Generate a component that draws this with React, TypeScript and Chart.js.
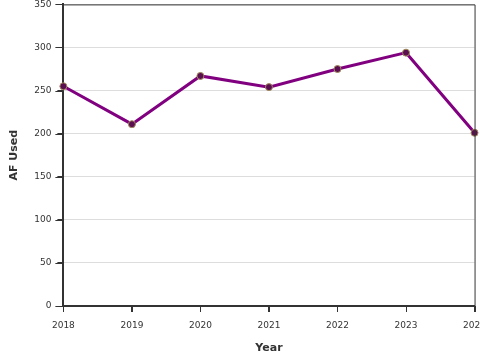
import React, { useEffect, useRef } from "react";
import { Chart, registerables } from "chart.js";

Chart.register(...registerables);

const years = ["2018", "2019", "2020", "2021", "2022", "2023", "2024"];
const afUsed = [255, 211, 267, 254, 275, 294, 201];
const yTicks = [0, 50, 100, 150, 200, 250, 300, 350];

const borderPlugin = {
  id: "areaBorder",
  afterDraw(chart: any) {
    const { ctx, chartArea } = chart;
    ctx.save();
    ctx.strokeStyle = "#333";
    ctx.lineWidth = 1;
    ctx.beginPath();
    ctx.moveTo(chartArea.left, chartArea.top + 0.5);
    ctx.lineTo(chartArea.right + 0.5, chartArea.top + 0.5);
    ctx.lineTo(chartArea.right + 0.5, chartArea.bottom);
    ctx.stroke();
    const xs = chart.scales.x;
    ctx.beginPath();
    xs.ticks.forEach((_t: any, i: number) => {
      const x = Math.round(xs.getPixelForTick(i)) + 0.5;
      ctx.moveTo(x, chartArea.bottom);
      ctx.lineTo(x, chartArea.bottom + 6);
    });
    const ys = chart.scales.y;
    ys.ticks.forEach((_t: any, i: number) => {
      const y = Math.round(ys.getPixelForTick(i)) + 0.5;
      ctx.moveTo(chartArea.left - 8, y);
      ctx.lineTo(chartArea.left, y);
    });
    ctx.stroke();
    ctx.restore();
  },
};

export default function App() {
  const ref = useRef<HTMLCanvasElement>(null);
  useEffect(() => {
    document.body.style.margin = "0";
    const chart = new Chart(ref.current!, {
      type: "line",
      data: {
        labels: years,
        datasets: [
          {
            data: afUsed,
            borderColor: "#800080",
            borderWidth: 3,
            pointRadius: 3.5,
            pointBackgroundColor: "#5a1050",
            pointBorderColor: "#a08a5a",
            pointBorderWidth: 1,
            tension: 0,
            clip: false as any,
          },
        ],
      },
      options: {
        animation: false,
        responsive: false,
        layout: { padding: { top: 0, left: 8, right: 0, bottom: 5 } },
        plugins: { legend: { display: false }, tooltip: { enabled: false } },
        scales: {
          x: {
            offset: false,
            grid: { display: true, drawOnChartArea: false, tickLength: 6, color: "#333" },
            border: { color: "#333", width: 2 },
            ticks: { color: "#333", font: { family: "DejaVu Sans", size: 9 }, maxRotation: 0, padding: 8 },
            title: { display: true, text: "Year", color: "#333", font: { family: "DejaVu Sans", size: 11, weight: "bold" }, padding: { top: 3, bottom: 0 } },
          },
          y: {
            min: 0,
            max: 350,
            afterBuildTicks: (s: any) => {
              s.ticks = yTicks.map((v) => ({ value: v }));
            },
            grid: { color: "#dddddd", tickLength: 6, tickColor: "#333" } as any,
            border: { color: "#333", width: 2 },
            ticks: { color: "#333", font: { family: "DejaVu Sans", size: 9 }, padding: 6 },
            title: { display: true, text: "AF Used", color: "#333", font: { family: "DejaVu Sans", size: 11, weight: "bold" }, padding: { top: 0, bottom: 7 } },
          },
        },
      },
      plugins: [borderPlugin],
    });
    return () => chart.destroy();
  }, []);
  return (
    <div style={{ position: "absolute", left: 0, top: 0, width: 480, height: 360, overflow: "hidden" }}>
      <canvas ref={ref} width={494} height={367} style={{ display: "block", position: "absolute", left: 0, top: -7 }} />
    </div>
  );
}
